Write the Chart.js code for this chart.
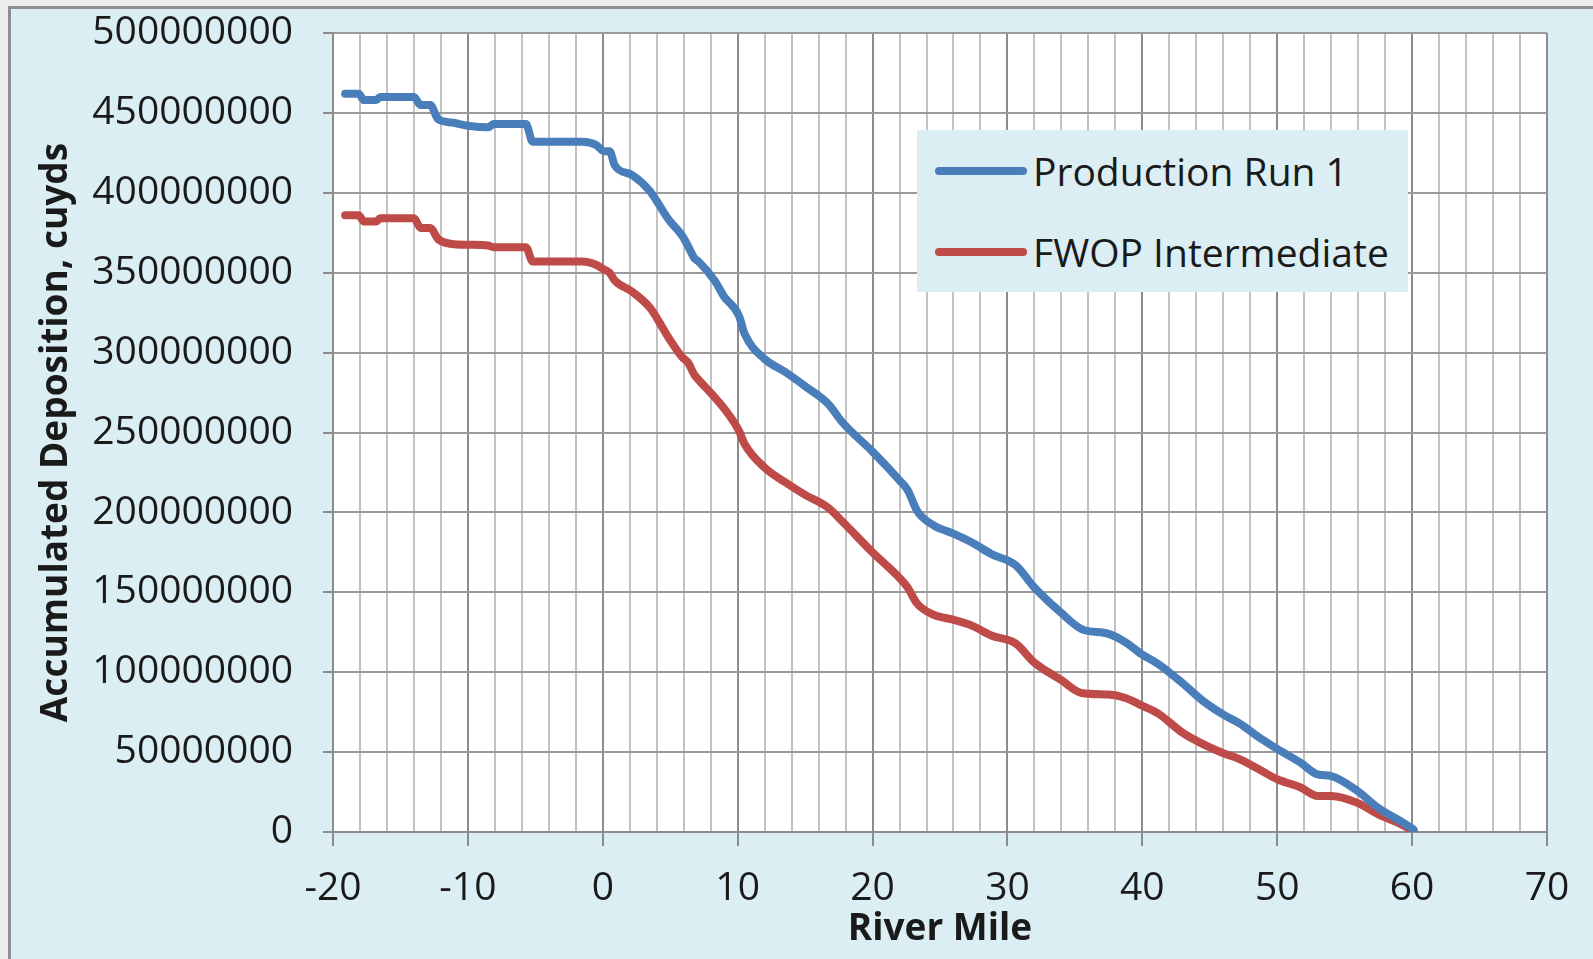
<!DOCTYPE html>
<html>
<head>
<meta charset="utf-8">
<script src="https://cdn.jsdelivr.net/npm/chart.js@4.4.1/dist/chart.umd.min.js"></script>
<style>
  html, body { margin: 0; padding: 0; width: 1593px; height: 959px; overflow: hidden; background: #ececec; }
  #frame { position: absolute; left: 8px; top: 6px; right: 0; bottom: 0; background: #dbeef3;
           border-left: 3px solid #8e8e8e; border-top: 3px solid #8e8e8e; }
  #chart { position: absolute; left: 0; top: 0; }
  #legend { position: absolute; left: 917px; top: 130px; width: 491px; height: 162px; background: #dbeef3;
            font-family: "Open Sans", sans-serif; font-size: 39px; color: #1a1a1a; }
  .item { position: absolute; left: 18px; height: 46px; line-height: 46px; display: flex; align-items: center; white-space: nowrap; }
  .swatch { width: 92px; height: 8px; border-radius: 4px; margin-right: 6px; }
</style>
</head>
<body>
<div id="frame"></div>
<canvas id="chart" width="1593" height="959"></canvas>
<div id="legend"></div>
<script>
// river mile positions
const riverMile = [
  -19.1, -18.1, -17.7, -16.8, -16.5, -14.0, -13.5, -12.8, -12.2, -11.2,
  -10.0, -8.5, -8.1, -5.7, -5.2, -1.5, -0.5, 0.1, 0.5, 0.9,
  2.2, 3.5, 4.9, 5.9, 6.3, 6.8, 7.1, 8.3, 9.0, 10.1,
  10.5, 12.0, 13.5, 15.0, 16.7, 17.8, 20.0, 22.0, 22.6, 23.3,
  24.5, 25.9, 27.4, 28.8, 30.6, 32.0, 34.0, 35.5, 37.5, 38.7,
  40.0, 41.2, 43.0, 44.5, 46.1, 47.2, 48.7, 50.0, 51.7, 53.0,
  54.0, 55.9, 57.5, 58.9, 60.1
]

// accumulated deposition, millions of cu yd
const productionRun1 = [
  462, 462, 458, 458, 460, 460, 455, 455, 446, 444,
  442, 441, 443, 443, 432, 432, 430, 426, 426, 417,
  411, 401, 383, 373, 367, 359, 357, 345, 335, 323,
  312, 296, 288, 279, 268, 256, 238, 220, 214, 201,
  192, 187, 181, 174, 167, 153, 137, 127, 124, 119,
  111, 105, 93, 82, 73, 68, 59, 52, 43.5, 36,
  35, 26, 15, 8, 1.7
]

const fwopIntermediate = [
  386, 386, 382, 382, 384, 384, 378, 378, 371, 368,
  367.5, 367, 366, 366, 357, 357, 355, 352, 350, 345,
  338, 328, 309, 297, 294, 286, 283, 272, 265, 251,
  243, 228, 219, 211, 203, 194, 175, 159, 153, 143,
  136, 133, 129, 123, 118, 106, 95, 87, 86, 84,
  79, 74, 62, 55, 49, 45.6, 39, 33, 28, 22.6,
  22.6, 18.4, 11, 6, 0.8
]

const xTickLabels = [-20, -10, 0, 10, 20, 30, 40, 50, 60, 70]
const yTickStep = 50000000

const FONT = '"Open Sans", sans-serif'
const TEXT = '#1a1a1a'

function toPoints(values) {
    return values.map(function(v, i) {
        return { x: riverMile[i], y: v * 1e6 }
    })
}

const plotBackground = {
    id: 'plotBackground',
    beforeDraw(chart) {
        const { ctx, chartArea: a } = chart
        ctx.save()
        ctx.fillStyle = '#ffffff'
        ctx.fillRect(a.left, a.top, a.width, a.height)
        ctx.restore()
    }
}

const isMajor = function(ctx) {
    return ctx.tick && xTickLabels.includes(ctx.tick.value)
}

const chart = new Chart(document.getElementById('chart').getContext('2d'), {
    type: 'line',
    data: {
        datasets: [
            { label: 'Production Run 1', data: toPoints(productionRun1), borderColor: '#4a7ebb' },
            { label: 'FWOP Intermediate', data: toPoints(fwopIntermediate), borderColor: '#be4b48' }
        ]
    },
    options: {
        responsive: false,
        animation: false,
        layout: { padding: { left: 0, top: 33, right: 46, bottom: 0 } },
        plugins: { legend: { display: false }, tooltip: { enabled: false } },
        elements: {
            point: { radius: 0 },
            line: { borderWidth: 8, borderCapStyle: 'round', borderJoinStyle: 'round', cubicInterpolationMode: 'monotone' }
        },
        scales: {
            x: {
                type: 'linear', min: -20, max: 70,
                afterFit(scale) { scale.height = 127 },
                ticks: {
                    stepSize: 2, autoSkip: false, maxRotation: 0, padding: 19,
                    color: TEXT, font: { family: FONT, size: 39 },
                    callback: v => xTickLabels.includes(v) ? String(v) : ''
                },
                grid: {
                    color: ctx => isMajor(ctx) ? '#8c8c8c' : '#c2c2c2',
                    lineWidth: 2, tickLength: 14, tickWidth: 2,
                    tickColor: ctx => isMajor(ctx) ? '#8c8c8c' : 'rgba(0,0,0,0)'
                },
                border: { color: '#8c8c8c', width: 2 },
                title: {
                    display: true, text: 'River Mile', color: TEXT,
                    font: { family: FONT, size: 37, weight: 'bold' },
                    padding: { top: 0, bottom: 7 }
                }
            },
            y: {
                min: 0, max: 500000000,
                afterFit(scale) {
                    scale.width = 333
                    scale.paddingTop = 0
                },
                ticks: {
                    stepSize: yTickStep, padding: 30,
                    color: TEXT, font: { family: FONT, size: 39 },
                    callback: v => String(Math.round(v))
                },
                grid: { color: '#9a9a9a', lineWidth: 2, tickLength: 10, tickWidth: 2, tickColor: '#8c8c8c' },
                border: { color: '#8c8c8c', width: 2 },
                title: {
                    display: true, text: 'Accumulated Deposition, cuyds', color: TEXT,
                    font: { family: FONT, size: 37, weight: 'bold' },
                    padding: { top: 34, bottom: 0 }
                }
            }
        }
    },
    plugins: [plotBackground]
})

// legend drawn as html over the plot
const legend = document.getElementById('legend')
const rowCenters = [41, 122]
chart.data.datasets.forEach(function(ds, i) {
    const item = document.createElement('div')
    item.className = 'item'
    item.style.top = (rowCenters[i] - 23) + 'px'
    const swatch = document.createElement('span')
    swatch.className = 'swatch'
    swatch.style.background = ds.borderColor
    const label = document.createElement('span')
    label.textContent = ds.label
    item.appendChild(swatch)
    item.appendChild(label)
    legend.appendChild(item)
})
</script>
</body>
</html>
